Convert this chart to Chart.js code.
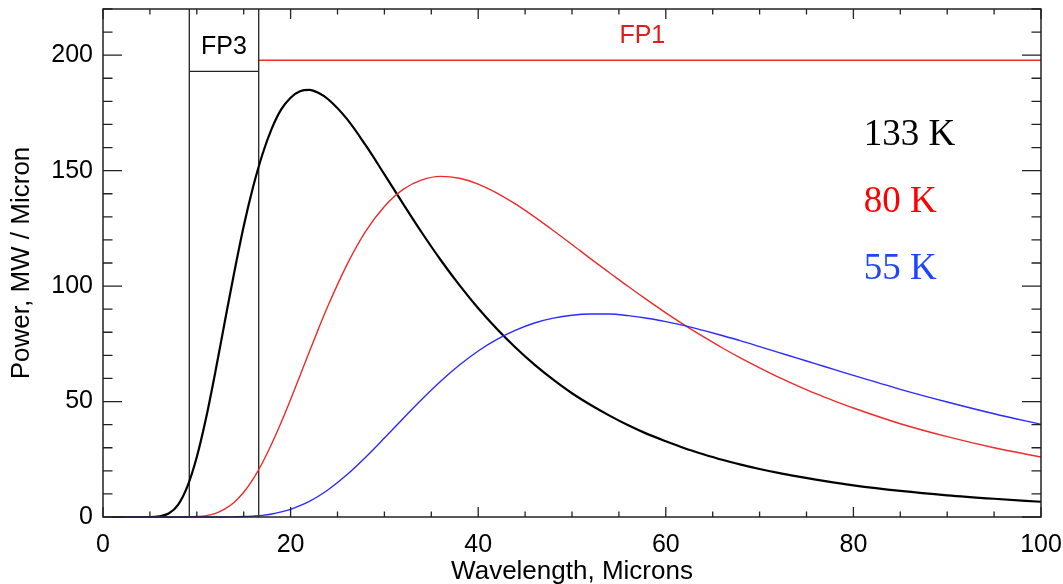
<!DOCTYPE html>
<html>
<head>
<meta charset="utf-8">
<script src="https://cdn.jsdelivr.net/npm/chart.js@4.4.1/dist/chart.umd.min.js"></script>
<style>
  html, body { margin: 0; padding: 0; background: #fff; }
  #wrap { width: 1063px; height: 584px; }
</style>
</head>
<body>
<div id="wrap"><canvas id="planck-chart"></canvas></div>
<script>
// wavelength samples (microns), shared by the three curves
const wavelengths = [1, 2, 3, 4, 5, 6, 7, 8, 9, 10, 11, 12, 13, 14, 15, 16, 17, 18, 19, 20,
  21, 22, 23, 24, 26, 28, 30, 32, 34, 36, 38, 40, 42, 44, 46, 48, 50, 52, 54, 56, 58, 60,
  62, 64, 66, 68, 70, 72, 74, 76, 78, 80, 85, 90, 95, 100];

const power133K = [0, 0, 0, 0, 0, 0.3, 1.5, 5.3, 13.3, 26.0, 43.1, 63.3, 84.9, 106.1, 125.9, 142.9,
  157.1, 168.3, 176.5, 181.6, 184.4, 185.0, 183.6, 180.9, 172.4, 161.0, 148.4, 135.6, 123.1,
  111.3, 100.4, 90.4, 81.4, 73.3, 66.0, 59.5, 53.6, 48.5, 43.9, 39.7, 36.0, 32.8, 29.8, 27.2,
  24.8, 22.7, 20.8, 19.1, 17.6, 16.2, 14.9, 13.7, 11.3, 9.4, 7.9, 6.6];

const power80K = [0, 0, 0, 0, 0, 0, 0, 0, 0, 0.2, 0.6, 1.6, 3.5, 6.4, 10.7, 16.4, 23.5, 31.8,
  41.0, 50.9, 61.2, 71.6, 81.8, 91.6, 109.2, 123.7, 134.5, 141.9, 146.0, 147.5, 146.7, 144.2,
  140.3, 135.5, 130.0, 124.1, 118.0, 111.8, 105.8, 99.8, 94.0, 88.4, 83.1, 78.1, 73.3, 68.8,
  64.6, 60.6, 56.9, 53.4, 50.2, 47.2, 40.4, 34.8, 30.0, 26.0];

const power55K = [0, 0, 0, 0, 0, 0, 0, 0, 0, 0, 0, 0, 0, 0.1, 0.2, 0.4, 0.7, 1.3, 2.2, 3.3,
  4.9, 6.8, 9.1, 11.8, 18.3, 25.9, 34.2, 42.7, 51.0, 58.8, 65.8, 71.9, 76.9, 80.9, 84.0, 86.1,
  87.4, 87.9, 87.9, 87.2, 86.1, 84.6, 82.9, 80.8, 78.6, 76.3, 73.8, 71.3, 68.8, 66.3, 63.8,
  61.3, 55.3, 49.8, 44.7, 40.1];

// focal plane band edges (microns) and bar levels
const fp3Band = [9.2, 16.6];
const fp3Level = 193;
const fp1Band = [16.6, 100];
const fp1Level = 197.8;

const curveLabels = ['133 K', '80 K', '55 K'];
const bandLabels = ['FP3', 'FP1'];

const BLACK = '#000000';
const RED = '#ee2a2a';
const BLUE = '#2a2aff';

function toPoints(ys) {
  return wavelengths.map((x, i) => ({ x: x, y: ys[i] }));
}

function curve(label, ys, color, width, order) {
  return {
    label: label,
    data: toPoints(ys),
    borderColor: color,
    borderWidth: width,
    pointRadius: 0,
    cubicInterpolationMode: 'monotone',
    clip: 3,
    order: order,
  };
}

function segment(points, color, width) {
  return {
    data: points,
    borderColor: color,
    borderWidth: width,
    pointRadius: 0,
    tension: 0,
    order: 5,
  };
}

// no extra room for overhanging tick labels, the box sits where the padding says
function noScalePadding(scale) {
  scale.paddingTop = 0;
  scale.paddingBottom = 0;
  scale.paddingLeft = 0;
  scale.paddingRight = 0;
}

// inward ticks on all four sides plus the box, IDL style
const frameTicks = {
  id: 'frameTicks',
  afterDatasetsDraw(chart) {
    const { ctx, chartArea: a, scales: { x, y } } = chart;
    ctx.save();
    ctx.strokeStyle = '#222';
    ctx.lineWidth = 1.5;
    ctx.strokeRect(a.left, a.top, a.right - a.left, a.bottom - a.top);
    ctx.lineWidth = 1.3;
    ctx.beginPath();
    for (let v = 0; v <= 100; v += 5) {
      const px = x.getPixelForValue(v);
      const len = v % 20 === 0 ? 10 : 5.5;
      ctx.moveTo(px, a.bottom);
      ctx.lineTo(px, a.bottom - len);
      ctx.moveTo(px, a.top);
      ctx.lineTo(px, a.top + len);
    }
    for (let v = 0; v <= 220; v += 10) {
      const py = y.getPixelForValue(v);
      const len = v % 50 === 0 ? 19 : 9.5;
      ctx.moveTo(a.left, py);
      ctx.lineTo(a.left + len, py);
      ctx.moveTo(a.right, py);
      ctx.lineTo(a.right - len, py);
    }
    ctx.stroke();
    ctx.restore();
  },
};

const textLabels = {
  id: 'textLabels',
  afterDatasetsDraw(chart) {
    const { ctx, scales: { x, y } } = chart;
    ctx.save();
    ctx.textBaseline = 'middle';
    ctx.textAlign = 'center';
    ctx.font = '25px "Liberation Sans", Arial, sans-serif';
    ctx.fillStyle = BLACK;
    ctx.fillText(bandLabels[0], x.getPixelForValue((fp3Band[0] + fp3Band[1]) / 2), y.getPixelForValue(203.7));
    ctx.fillStyle = '#e31b1b';
    ctx.fillText(bandLabels[1], x.getPixelForValue(57.5), y.getPixelForValue(208.4));

    ctx.textAlign = 'left';
    ctx.textBaseline = 'alphabetic';
    ctx.font = '37px "Liberation Serif", "Times New Roman", serif';
    const colors = [BLACK, '#ff0000', '#1f44ff'];
    const levels = [161.1, 132.2, 103.1];
    curveLabels.forEach((label, i) => {
      ctx.fillStyle = colors[i];
      ctx.fillText(label, x.getPixelForValue(81.1), y.getPixelForValue(levels[i]));
    });
    ctx.restore();
  },
};

const sansFont = { family: '"Liberation Sans", Arial, sans-serif', size: 25 };

const ctx = document.getElementById('planck-chart').getContext('2d');

new Chart(ctx, {
  type: 'line',
  data: {
    datasets: [
      curve('55 K', power55K, BLUE, 1.4, 1),
      curve('80 K', power80K, RED, 1.4, 2),
      curve('133 K', power133K, BLACK, 2.2, 3),
      segment([{ x: fp3Band[0], y: 0 }, { x: fp3Band[0], y: 220 }], '#222', 1.3),
      segment([{ x: fp3Band[1], y: 0 }, { x: fp3Band[1], y: 220 }], '#222', 1.3),
      segment([{ x: fp3Band[0], y: fp3Level }, { x: fp3Band[1], y: fp3Level }], '#222', 1.3),
      segment([{ x: fp1Band[0], y: fp1Level }, { x: fp1Band[1], y: fp1Level }], RED, 1.4),
    ],
  },
  options: {
    responsive: true,
    maintainAspectRatio: false,
    animation: false,
    layout: { padding: { top: 9, right: 22, left: 0, bottom: 0 } },
    plugins: {
      legend: { display: false },
      tooltip: { enabled: false },
    },
    scales: {
      x: {
        type: 'linear',
        min: 0,
        max: 100,
        grid: { display: false, drawTicks: false },
        border: { display: false },
        ticks: { stepSize: 20, font: sansFont, color: '#000', padding: 13, maxRotation: 0 },
        title: {
          display: true,
          text: 'Wavelength, Microns',
          color: '#000',
          font: { family: sansFont.family, size: 26, lineHeight: 1 },
          padding: { top: 0, bottom: -1 },
        },
        afterFit(scale) {
          scale.height = 67;
          noScalePadding(scale);
        },
      },
      y: {
        type: 'linear',
        min: 0,
        max: 220,
        grid: { display: false, drawTicks: false },
        border: { display: false },
        ticks: { stepSize: 50, includeBounds: false, font: sansFont, color: '#000', padding: 10 },
        title: {
          display: true,
          text: 'Power, MW / Micron',
          color: '#000',
          font: { family: sansFont.family, size: 26, lineHeight: 1 },
          padding: { top: 9, bottom: 0 },
        },
        afterFit(scale) {
          scale.width = 103;
          noScalePadding(scale);
        },
      },
    },
  },
  plugins: [frameTicks, textLabels],
});
</script>
</body>
</html>
